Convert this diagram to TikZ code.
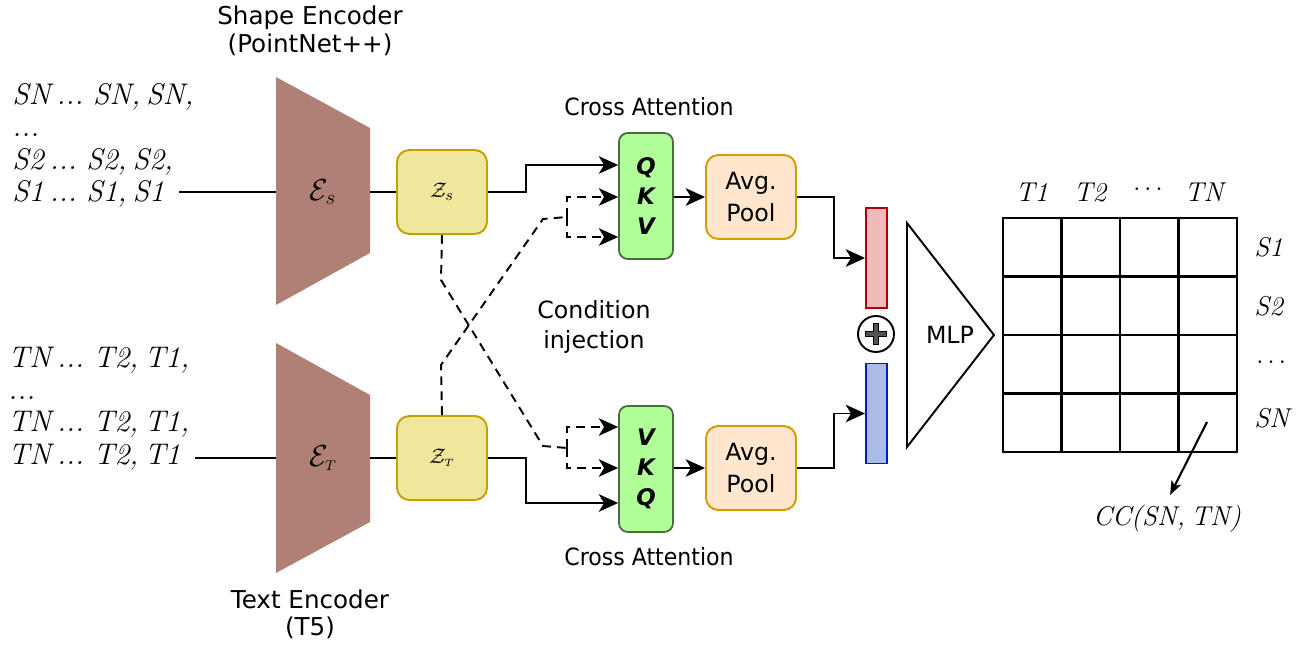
\documentclass[tikz,border=0pt]{standalone}
\usepackage{fontspec}
\setsansfont{DejaVu Sans}
\usetikzlibrary{arrows.meta,calc}

\definecolor{encfill}{HTML}{B08075}
\definecolor{zfill}{HTML}{F0E69C}
\definecolor{zdraw}{HTML}{C4A000}
\definecolor{attfill}{HTML}{B0FF99}
\definecolor{attdraw}{HTML}{4A6B40}
\definecolor{poolfill}{HTML}{FFE6CC}
\definecolor{pooldraw}{HTML}{D79B00}
\definecolor{redfill}{HTML}{F0BBB8}
\definecolor{reddraw}{HTML}{B20000}
\definecolor{bluefill}{HTML}{A9BCE6}
\definecolor{bluedraw}{HTML}{001DBC}
\definecolor{plusgray}{HTML}{555555}

% italic index text with narrow word spaces
\newcommand{\seqfont}{\itshape\fontsize{17}{19}\selectfont\spaceskip=3.5pt plus 1pt minus 0.5pt\relax}
\newcommand{\idxfont}{\itshape\fontsize{15.5}{18}\selectfont\spaceskip=3.5pt plus 1pt minus 0.5pt\relax}

\begin{document}
\begin{tikzpicture}[x=0.02cm,y=-0.02cm,
  sans/.style={font=\sffamily\fontsize{13.5}{18}\selectfont},
  enclabel/.style={font=\sffamily\fontsize{14}{18}\selectfont, anchor=base},
  seq/.style={font=\seqfont, anchor=base west, inner sep=0pt},
  idx/.style={font=\idxfont, inner sep=0pt},
  conn/.style={line width=1.1pt},
  tip/.style={-{Stealth[length=11pt,width=10pt,inset=3pt]}},
  arr/.style={conn, tip},
  dsh/.style={conn, dash pattern=on 5pt off 3.5pt},
  zbox/.style={draw=zdraw, fill=zfill, line width=1.1pt, rounded corners=7pt,
    minimum width=1.8cm, minimum height=1.68cm, inner sep=0pt},
  attbox/.style={draw=attdraw, fill=attfill, line width=1pt, rounded corners=5pt,
    minimum width=1.08cm, minimum height=2.52cm, align=center, inner sep=0pt,
    font=\sffamily\bfseries\itshape\fontsize{13}{17}\selectfont},
  poolbox/.style={draw=pooldraw, fill=poolfill, line width=1.1pt, rounded corners=7pt,
    minimum width=1.8cm, minimum height=1.68cm, align=center, inner sep=0pt, sans},
  vecbar/.style={line width=1.1pt, minimum width=0.42cm, minimum height=2cm, inner sep=0pt},
  enc/.style={minimum width=1.88cm, minimum height=2.4cm, inner sep=0pt,
    font=\fontsize{17}{19}\selectfont},
  gridl/.style={line width=1.5pt, line cap=rect},
]
\useasboundingbox (0,0) rectangle (1309,648);

% ---------- input sequences ----------
\node[seq] at (12,105) {SN ... SN, SN,};
\node[seq] at (12,137) {...};
\node[seq] at (12,170) {S2 ... S2, S2,};
\node[seq] (s1) at (12,202) {S1 ... S1, S1};

\node[seq] at (8,368) {TN ... T2, T1,};
\node[seq] at (8,400) {...};
\node[seq] at (8,432) {TN ... T2, T1,};
\node[seq] (t1) at (8,465) {TN ... T2, T1};

% ---------- encoders ----------
\fill[encfill] (276,77) -- (370,128) -- (370,253) -- (276,305) -- cycle;
\node[enc] (Es) at (323,192) {$\mathcal{E}_s$};
\fill[encfill] (276,343) -- (370,395) -- (370,522) -- (276,573) -- cycle;
\node[enc] (Et) at (323,458) {$\mathcal{E}_{\scriptscriptstyle T}$};

\node[enclabel] at (310,25) {Shape Encoder};
\node[enclabel] at (310,53) {(PointNet++)};
\node[enclabel] at (310,608) {Text Encoder};
\node[enclabel] at (310,635) {(T5)};

\coordinate (s1end) at ($(s1.east)+(14,0)$);
\coordinate (t1end) at ($(t1.east)+(14,0)$);
\draw[conn] (s1end |- Es.west) -- (Es.west);
\draw[conn] (t1end |- Et.west) -- (Et.west);

% ---------- latent codes ----------
\node[zbox, font=\fontsize{13}{15}\selectfont] (Zs) at (442,192) {$\mathcal{Z}_s$};
\node[zbox, font=\fontsize{12.5}{15}\selectfont] (Zt) at (442,458) {$\mathcal{Z}_{\scriptscriptstyle T}$};
\draw[conn] (Es.east) -- (Zs.west);
\draw[conn] (Et.east) -- (Zt.west);

% ---------- cross attention blocks ----------
\node[attbox] (att1) at (646,196) {Q\\K\\V};
\node[attbox] (att2) at (646,469) {V\\K\\Q};
\node[sans, anchor=base] at (649,116) {\scalebox{0.93}[1]{Cross Attention}};
\node[sans, anchor=base] at (649,565) {\scalebox{0.93}[1]{Cross Attention}};
\node[sans, anchor=base] at (594,319) {Condition};
\node[sans, anchor=base] at (594,349) {injection};

\coordinate (q1) at ($(att1.west)+(0,-31)$);
\coordinate (k1) at ($(att1.west)+(0,1)$);
\coordinate (v1) at ($(att1.west)+(0,41)$);
\coordinate (v2) at ($(att2.west)+(0,-42)$);
\coordinate (k2) at ($(att2.west)+(0,-1)$);
\coordinate (q2) at ($(att2.west)+(0,34)$);

\draw[arr] (Zs.east) -- ++(38,0) |- (q1);
\draw[arr] (Zt.east) -- ++(38,0) |- (q2);

% condition injection (dashed, crossing)
\coordinate (j1) at (567,217);
\coordinate (j2) at (567,448);
\draw[dsh] (Zs.south) -- (441,280) -- (543,446) -- (j2);
\draw[dsh] (Zt.north) -- (441,365) -- (543,219) -- (j1);
\draw[dsh, tip] (j1) |- (k1);
\draw[dsh, tip] (j1) |- (v1);
\draw[dsh, tip] (j2) |- (v2);
\draw[dsh, tip] (j2) |- (k2);

% ---------- pooling ----------
\node[poolbox] (pool1) at (751,197) {Avg.\\Pool};
\node[poolbox] (pool2) at (751,468) {Avg.\\Pool};
\draw[arr] (att1.east |- pool1.west) -- (pool1.west);
\draw[arr] (att2.east |- pool2.west) -- (pool2.west);

% ---------- pooled embeddings ----------
\node[vecbar, draw=reddraw, fill=redfill] (red) at (876.5,258) {};
\node[vecbar, draw=bluedraw, fill=bluefill] (blue) at (876.5,413.5) {};
\draw[arr] (pool1.east) -- ++(37,0) |- (red.west);
\draw[arr] (pool2.east) -- ++(37,0) |- (blue.west);

\node[circle, draw, line width=1.1pt, minimum size=0.72cm, inner sep=0pt] (plus) at (876,334) {};
\draw[line width=3.6pt, line cap=rect] ($(plus.center)+(-8,0)$) -- ($(plus.center)+(8,0)$);
\draw[line width=3.6pt, line cap=rect] ($(plus.center)+(0,-8)$) -- ($(plus.center)+(0,8)$);
\draw[plusgray, line width=1.9pt, line cap=rect] ($(plus.center)+(-8,0)$) -- ($(plus.center)+(8,0)$);
\draw[plusgray, line width=1.9pt, line cap=rect] ($(plus.center)+(0,-8)$) -- ($(plus.center)+(0,8)$);

% ---------- MLP ----------
\draw[line width=1.1pt, line join=miter] (907,223) -- (994,335) -- (907,447) -- cycle;
\node[sans] (mlp) at (950,335) {MLP};

% ---------- correspondence matrix ----------
\foreach \k in {0,...,4} {
  \draw[gridl] (1003+58.5*\k,218) -- (1003+58.5*\k,452);
  \draw[gridl] (1003,218+58.5*\k) -- (1237,218+58.5*\k);
}
\node[idx, anchor=base] at (1032,202) {T1};
\node[idx, anchor=base] at (1090,202) {T2};
\node[idx] at (1148,190) {$\cdots$};
\node[idx, anchor=base] at (1204,202) {TN};
\node[idx, anchor=base west] at (1254,257) {S1};
\node[idx, anchor=base west] at (1254,316) {S2};
\node[idx, anchor=west] at (1256,363) {$\cdots$};
\node[idx, anchor=base west] at (1254,428) {SN};

\coordinate (cellNN) at (1207,422);
\node[idx, anchor=base] (cc) at (1167,525) {CC(SN, TN)};
\coordinate (cctip) at (1170,495);
\draw[line width=1.2pt, -{Stealth[length=8pt,width=6pt,inset=2pt]}] (cellNN) -- (cctip);
\end{tikzpicture}
\end{document}
